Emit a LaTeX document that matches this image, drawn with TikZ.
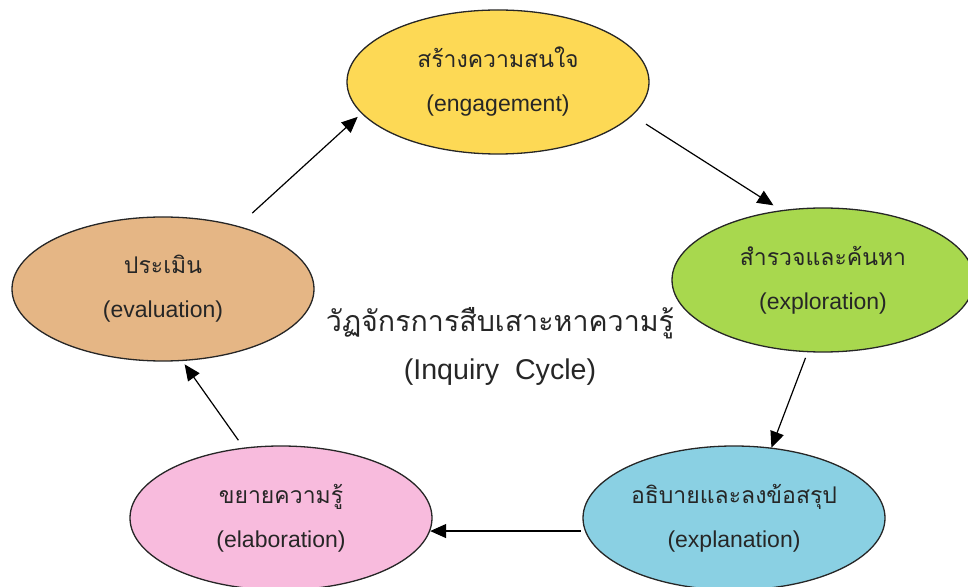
\documentclass[tikz,border=0pt]{standalone}
\usepackage{fontspec}
\setmainfont{Liberation Sans}
\newfontfamily\thaifont[Script=Thai]{Loma}
\usetikzlibrary{shapes.geometric, arrows.meta}
\definecolor{engagecol}{HTML}{FDD955}
\definecolor{explorecol}{HTML}{A8D84E}
\definecolor{explaincol}{HTML}{8AD0E3}
\definecolor{elabcol}{HTML}{F8BBDD}
\definecolor{evalcol}{HTML}{E5B685}
\tikzstyle{phase} = [ellipse, minimum width=151pt, minimum height=72pt, inner sep=0pt, draw=black!85, line width=0.65pt, align=center, text=black!85, font=\fontsize{11.5}{14}\selectfont]
\tikzstyle{arrow} = [line width=0.6pt, -{Triangle[length=8pt,width=7pt]}]

\begin{document}
\begin{tikzpicture}[x=0.5pt, y=-0.5pt]
    \useasboundingbox (0,0) rectangle (968,587);

    % Nodes
    \node (engage) [phase, fill=engagecol] at (498,82) {{\thaifont สร้างความสนใจ}\\[8pt](engagement)};
    \node (explore) [phase, fill=explorecol] at (823,280) {{\thaifont สำรวจและค้นหา}\\[8pt](exploration)};
    \node (explain) [phase, fill=explaincol] at (734,518) {{\thaifont อธิบายและลงข้อสรุป}\\[8pt](explanation)};
    \node (elab) [phase, fill=elabcol] at (281,518) {{\thaifont ขยายความรู้}\\[8pt](elaboration)};
    \node (eval) [phase, fill=evalcol] at (163,289) {{\thaifont ประเมิน}\\[8pt](evaluation)};
    \node (cycle) [align=center, text=black!85, font=\fontsize{14.3}{17}\selectfont] at (500,346) {{\thaifont วัฏจักรการสืบเสาะหาความรู้}\\[7pt](Inquiry~~Cycle)};

    % Arrows
    \draw [arrow, shorten <=9.5pt, shorten >=2.5pt] (eval.40) -- (engage.193);
    \draw [arrow, shorten <=8pt, shorten >=4.5pt] (engage.346) -- (explore.121);
    \draw [arrow, shorten <=3pt] (explore.258) -- (explain.62);
    \draw [arrow, shorten <=2pt] (explain.185) -- (elab.355);
    \draw [arrow, shorten <=4.5pt, shorten >=2pt] (elab.118) -- (eval.285);

\end{tikzpicture}
\end{document}
